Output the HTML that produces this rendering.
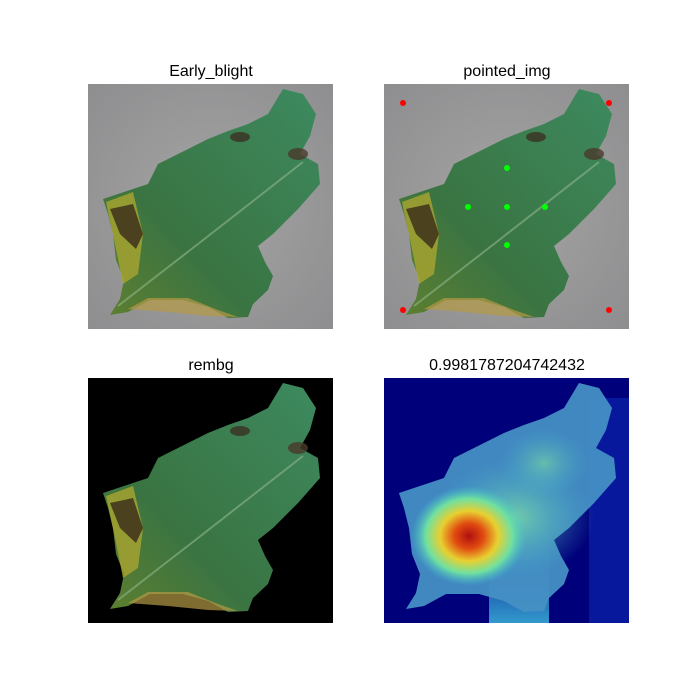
<!DOCTYPE html>
<html><head><meta charset="utf-8"><style>
body{margin:0;background:#fff;width:700px;height:700px;overflow:hidden}
svg{display:block}
text{font-family:"Liberation Sans",sans-serif;font-size:16px;fill:#000}
</style></head><body>
<svg width="700" height="700" viewBox="0 0 700 700">
<defs>
<path id="leaf" d="M15,115 L60,100 L70,80 L90,70 L120,55 L140,47 L160,40 L180,30 L195,5 L215,10 L228,30 L222,52 L212,70 L230,80 L232,100 L210,125 L185,150 L170,162 L177,178 L185,192 L180,206 L165,220 L160,233 L140,234 L120,223 L95,216 L62,216 L40,228 L22,231 L32,215 L36,196 L28,176 L25,150 L20,130 Z"/>
<linearGradient id="lg" x1="0" y1="1" x2="1" y2="0">
<stop offset="0" stop-color="#5f7f2e"/><stop offset="0.35" stop-color="#3a7442"/><stop offset="1" stop-color="#3d8a60"/></linearGradient>
<radialGradient id="grey" cx="0.5" cy="0.5" r="0.7"><stop offset="0" stop-color="#a4a4a4"/><stop offset="1" stop-color="#8e8e90"/></radialGradient>
<g id="leafart">
<use href="#leaf" fill="url(#lg)"/>
<path d="M18,118 L45,108 L55,150 L50,190 L35,200 L28,165 Z" fill="#a9a530" opacity="0.8"/>
<path d="M22,125 L45,120 L55,150 L48,165 L32,150 Z" fill="#3a2a1a" opacity="0.8"/>
<path d="M40,225 L60,214 L100,214 L130,226 L150,233 L120,232 L80,228 Z" fill="#b59a45" opacity="0.7"/>
<ellipse cx="152" cy="53" rx="10" ry="5" fill="#3a2f22" opacity="0.8"/>
<ellipse cx="210" cy="70" rx="10" ry="6" fill="#4a3a2a" opacity="0.8"/>
<path d="M30,222 L110,160 L215,78" stroke="#8fb58a" stroke-width="2" fill="none" opacity="0.6"/>
</g>
<radialGradient id="hot" cx="0.5" cy="0.5" r="0.5">
<stop offset="0" stop-color="#b01010"/><stop offset="0.25" stop-color="#e04a10"/><stop offset="0.5" stop-color="#e8d030"/><stop offset="0.75" stop-color="#70e0a0"/><stop offset="1" stop-color="#40c0d0" stop-opacity="0"/></radialGradient>
<radialGradient id="warm" cx="0.5" cy="0.5" r="0.5">
<stop offset="0" stop-color="#80e0a0"/><stop offset="1" stop-color="#40b0d0" stop-opacity="0"/></radialGradient>
<linearGradient id="col" x1="0" y1="0" x2="0" y2="1"><stop offset="0" stop-color="#2080e0" stop-opacity="0"/><stop offset="1" stop-color="#40c0e0" stop-opacity="0.8"/></linearGradient>
<clipPath id="c4"><rect x="384" y="378" width="245" height="245"/></clipPath>
</defs>

<text x="211" y="76" text-anchor="middle">Early_blight</text>
<text x="507" y="76" text-anchor="middle">pointed_img</text>
<text x="211" y="370" text-anchor="middle">rembg</text>
<text x="507" y="370" text-anchor="middle">0.9981787204742432</text>

<g transform="translate(88,84)">
<rect width="245" height="245" fill="url(#grey)"/><use href="#leafart"/></g>

<g transform="translate(384,84)">
<rect width="245" height="245" fill="url(#grey)"/><use href="#leafart"/>
<g fill="#ff0000"><circle cx="19" cy="19" r="3"/><circle cx="225" cy="19" r="3"/><circle cx="19" cy="226" r="3"/><circle cx="225" cy="226" r="3"/></g>
<g fill="#00ff00"><circle cx="123" cy="84" r="3"/><circle cx="84" cy="123" r="3"/><circle cx="123" cy="123" r="3"/><circle cx="161" cy="123" r="3"/><circle cx="123" cy="161" r="3"/></g>
</g>

<g transform="translate(88,378)">
<rect width="245" height="245" fill="#000"/><use href="#leafart"/></g>

<g clip-path="url(#c4)">
<rect x="384" y="378" width="245" height="245" fill="#00007a"/>
<g transform="translate(384,378)">
<rect x="205" y="20" width="40" height="225" fill="#1030c0" opacity="0.5"/>
<rect x="105" y="130" width="60" height="115" fill="url(#col)"/>
<use href="#leaf" fill="#4a70c8" opacity="0.9"/>
<use href="#leaf" fill="#40c8c0" opacity="0.35"/>
<ellipse cx="130" cy="140" rx="80" ry="60" fill="url(#warm)" opacity="0.8"/>
<ellipse cx="160" cy="85" rx="45" ry="35" fill="url(#warm)" opacity="0.6"/>
<ellipse cx="85" cy="158" rx="58" ry="50" fill="url(#hot)"/>
</g></g>
</svg>
</body></html>
